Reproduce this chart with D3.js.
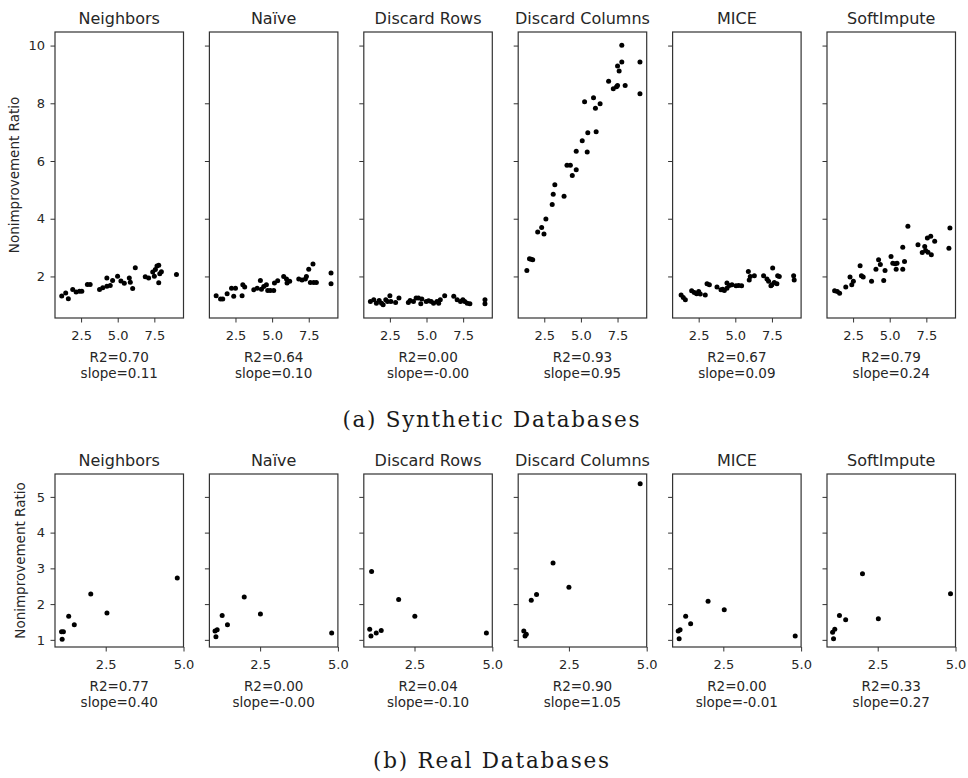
<!DOCTYPE html>
<html>
<head>
<meta charset="utf-8">
<script src="https://cdnjs.cloudflare.com/ajax/libs/d3/7.8.5/d3.min.js"></script>
<style>
    body { margin: 0; background: #fff; }
    svg text { font-family: "DejaVu Sans", sans-serif; fill: #262626; }
    .caption { font-family: "DejaVu Serif", serif; fill: #1a1a1a; }
</style>
</head>
<body>
<div id="chart"></div>
<script>
// panel titles (same for both rows)
var methods = ["Neighbors", "Naïve", "Discard Rows", "Discard Columns", "MICE", "SoftImpute"]

// (a) synthetic databases, [x, ratio]
var synthNeighbors = [[1.18,1.32],[1.45,1.43],[1.63,1.23],[1.93,1.55],[2.16,1.46],[2.39,1.49],[2.55,1.49],[2.93,1.72],[3.12,1.72],[3.76,1.55],[3.98,1.61],[4.26,1.66],[4.26,1.95],[4.49,1.69],[4.65,1.86],[4.99,2.01],[5.22,1.84],[5.45,1.76],[5.79,1.95],[5.86,1.80],[6.02,1.58],[6.20,2.30],[6.88,1.99],[7.11,1.95],[7.39,2.15],[7.50,2.01],[7.57,2.24],[7.68,2.36],[7.80,2.39],[7.87,2.09],[7.80,1.78],[7.98,2.16],[9.01,2.07]]
var synthNaive = [[1.18,1.33],[1.48,1.22],[1.63,1.22],[1.93,1.40],[2.23,1.59],[2.38,1.31],[2.50,1.59],[2.95,1.33],[3.00,1.71],[3.13,1.63],[3.75,1.54],[3.98,1.59],[4.20,1.86],[4.27,1.56],[4.43,1.65],[4.61,1.71],[4.70,1.51],[4.88,1.51],[5.11,1.51],[5.16,1.77],[5.38,1.85],[5.79,2.00],[5.98,1.91],[6.02,1.77],[6.20,1.83],[6.82,1.91],[7.04,1.88],[7.27,1.91],[7.34,2.00],[7.50,2.25],[7.61,1.79],[7.79,2.43],[7.84,1.79],[8.02,1.79],[9.02,2.12],[9.02,1.75]]
var synthDiscardRows = [[1.17,1.13],[1.40,1.19],[1.58,1.07],[1.77,1.17],[1.93,1.07],[2.04,1.02],[2.22,1.19],[2.34,1.13],[2.50,1.33],[2.57,1.13],[2.89,1.10],[3.12,1.25],[3.76,1.10],[3.88,1.17],[4.11,1.13],[4.29,1.25],[4.45,1.25],[4.61,1.05],[4.68,1.22],[4.98,1.13],[5.14,1.16],[5.32,1.13],[5.48,1.07],[5.71,1.13],[5.83,1.07],[5.94,1.19],[6.24,1.33],[6.86,1.31],[7.09,1.19],[7.32,1.13],[7.48,1.19],[7.61,1.13],[7.78,1.07],[7.96,1.05],[8.99,1.19],[8.99,1.05]]
var synthDiscardCols = [[1.31,2.21],[1.49,2.61],[1.60,2.60],[1.71,2.58],[2.05,3.54],[2.32,3.70],[2.48,3.47],[2.61,3.99],[3.04,4.49],[3.11,4.85],[3.22,5.18],[3.85,4.78],[4.05,5.85],[4.28,5.85],[4.41,5.50],[4.68,5.70],[4.68,6.34],[5.09,6.70],[5.25,8.05],[5.43,6.31],[5.47,6.98],[5.86,8.19],[5.99,7.83],[6.04,7.01],[6.31,7.98],[6.89,8.76],[7.21,8.50],[7.43,8.57],[7.50,8.62],[7.50,9.29],[7.61,9.12],[7.79,9.43],[7.79,10.01],[8.02,8.62],[9.03,9.43],[9.03,8.33]]
var synthMice = [[1.30,1.36],[1.45,1.27],[1.59,1.19],[2.02,1.50],[2.20,1.44],[2.36,1.40],[2.50,1.48],[2.61,1.39],[2.95,1.36],[3.07,1.75],[3.23,1.71],[3.75,1.63],[4.02,1.54],[4.14,1.56],[4.25,1.51],[4.43,1.59],[4.43,1.77],[4.59,1.69],[4.77,1.71],[5.05,1.68],[5.23,1.69],[5.43,1.68],[5.89,2.17],[5.95,1.88],[6.02,2.00],[6.30,2.02],[6.93,2.02],[7.16,1.91],[7.27,1.83],[7.43,1.68],[7.50,1.71],[7.55,2.29],[7.66,1.79],[7.84,1.75],[7.89,2.02],[8.00,2.00],[8.98,2.02],[9.02,1.88]]
var synthSoftImpute = [[1.24,1.50],[1.42,1.48],[1.58,1.42],[2.00,1.63],[2.29,1.98],[2.41,1.71],[2.52,1.83],[2.98,2.37],[3.07,2.02],[3.19,1.98],[3.76,1.83],[4.06,2.25],[4.24,2.58],[4.36,2.41],[4.59,1.86],[4.68,2.21],[5.09,2.69],[5.21,2.46],[5.37,2.44],[5.44,2.25],[5.50,2.46],[5.89,2.25],[5.89,3.01],[6.01,2.52],[6.24,3.74],[6.93,3.10],[7.22,2.83],[7.39,3.04],[7.45,2.90],[7.57,3.33],[7.61,2.84],[7.80,3.39],[7.84,2.75],[8.07,3.22],[9.04,2.98],[9.11,3.68]]
var synthR2 = ["0.70", "0.64", "0.00", "0.93", "0.67", "0.79"]
var synthSlope = ["0.11", "0.10", "-0.00", "0.95", "0.09", "0.24"]

// (b) real databases, [x, ratio]
var realNeighbors = [[1.08,1.23],[1.14,1.23],[1.10,1.02],[1.31,1.66],[1.49,1.42],[2.02,2.28],[2.54,1.75],[4.80,2.73]]
var realNaive = [[1.05,1.25],[1.12,1.28],[1.08,1.09],[1.28,1.68],[1.45,1.42],[1.99,2.20],[2.51,1.72],[4.80,1.19]]
var realDiscardRows = [[1.06,1.30],[1.10,1.11],[1.12,2.91],[1.27,1.19],[1.43,1.26],[1.99,2.13],[2.51,1.66],[4.81,1.19]]
var realDiscardCols = [[1.05,1.25],[1.09,1.11],[1.13,1.16],[1.29,2.11],[1.46,2.27],[1.99,3.15],[2.50,2.47],[4.79,5.37]]
var realMice = [[1.05,1.25],[1.11,1.28],[1.08,1.03],[1.29,1.66],[1.45,1.45],[2.01,2.08],[2.53,1.84],[4.81,1.11]]
var realSoftImpute = [[1.05,1.21],[1.12,1.30],[1.08,1.03],[1.27,1.68],[1.47,1.56],[2.01,2.85],[2.52,1.59],[4.84,2.29]]
var realR2 = ["0.77", "0.00", "0.04", "0.90", "0.00", "0.33"]
var realSlope = ["0.40", "-0.00", "-0.10", "1.05", "-0.01", "0.27"]

// tick labels
var synthXTicks = [2.5, 5.0, 7.5]
var synthYTicks = [2, 4, 6, 8, 10]
var realXTicks = [2.5, 5.0]
var realYTicks = [1, 2, 3, 4, 5]

var captions = ["(a) Synthetic Databases", "(b) Real Databases"]

var W = 968, H = 778
var svg = d3.select("#chart")
    .append("svg")
        .attr("width", W)
        .attr("height", H)

var panelLeft = 55,
    panelStep = 154.4,
    panelWidth = 128.5

drawRow({
    top: 32,
    height: 286,
    data: [synthNeighbors, synthNaive, synthDiscardRows, synthDiscardCols, synthMice, synthSoftImpute],
    r2: synthR2,
    slope: synthSlope,
    xDomain: [0.72, 9.49],
    yDomain: [0.56, 10.47],
    xTicks: synthXTicks,
    yTicks: synthYTicks,
    labelX: 15,
    caption: captions[0],
    captionY: 427,
    captionLen: 297
})

drawRow({
    top: 474,
    height: 173,
    data: [realNeighbors, realNaive, realDiscardRows, realDiscardCols, realMice, realSoftImpute],
    r2: realR2,
    slope: realSlope,
    xDomain: [0.87, 5.0],
    yDomain: [0.80, 5.64],
    xTicks: realXTicks,
    yTicks: realYTicks,
    labelX: 21,
    caption: captions[1],
    captionY: 768,
    captionLen: 236
})

function drawRow(cfg){
    var x = d3.scaleLinear()
        .domain(cfg.xDomain)
        .range([0, panelWidth])
    var y = d3.scaleLinear()
        .domain(cfg.yDomain)
        .range([cfg.height, 0])

    methods.forEach(function(name, i){
        var g = svg.append("g")
            .attr("transform", "translate(" + (panelLeft + i * panelStep) + "," + cfg.top + ")")

        var yAxis = d3.axisLeft(y)
            .tickValues(cfg.yTicks)
            .tickSize(4.5)
            .tickPadding(5.5)
            .tickFormat(i == 0 ? d3.format("d") : "")
        var xAxis = d3.axisBottom(x)
            .tickValues(cfg.xTicks)
            .tickSize(4.5)
            .tickPadding(8.5)
            .tickFormat(d3.format(".1f"))

        var ya = g.append("g").call(yAxis)
        var xa = g.append("g")
            .attr("transform", "translate(0," + cfg.height + ")")
            .call(xAxis)
        ;[ya, xa].forEach(function(a){
            a.attr("font-family", null).attr("font-size", 13)
            a.select(".domain").remove()
            a.selectAll(".tick line").attr("stroke", "#333").attr("stroke-width", 1)
        })

        g.selectAll("circle")
            .data(cfg.data[i])
            .enter()
            .append("circle")
                .attr("cx", d => x(d[0]))
                .attr("cy", d => y(d[1]))
                .attr("r", 2.5)
                .attr("fill", "#000")

        // frame
        g.append("rect")
            .attr("width", panelWidth)
            .attr("height", cfg.height)
            .attr("fill", "none")
            .attr("stroke", "#333")
            .attr("stroke-width", 1.2)

        g.append("text")
            .attr("x", panelWidth / 2)
            .attr("y", -8)
            .attr("text-anchor", "middle")
            .attr("font-size", 16)
            .text(name)

        g.append("text")
            .attr("x", panelWidth / 2)
            .attr("y", cfg.height + 43.5)
            .attr("text-anchor", "middle")
            .attr("font-size", 13.5)
            .text("R2=" + cfg.r2[i])

        g.append("text")
            .attr("x", panelWidth / 2)
            .attr("y", cfg.height + 60)
            .attr("text-anchor", "middle")
            .attr("font-size", 13.5)
            .text("slope=" + cfg.slope[i])
    })

    svg.append("text")
        .attr("transform", "translate(" + cfg.labelX + "," + (cfg.top + cfg.height / 2) + ") rotate(-90)")
        .attr("text-anchor", "middle")
        .attr("dominant-baseline", "middle")
        .attr("font-size", 13.5)
        .text("Nonimprovement Ratio")

    svg.append("text")
        .attr("class", "caption")
        .attr("x", 491)
        .attr("y", cfg.captionY)
        .attr("text-anchor", "middle")
        .attr("font-size", 21.5)
        .attr("textLength", cfg.captionLen)
        .attr("lengthAdjust", "spacing")
        .text(cfg.caption)
}
</script>
</body>
</html>
